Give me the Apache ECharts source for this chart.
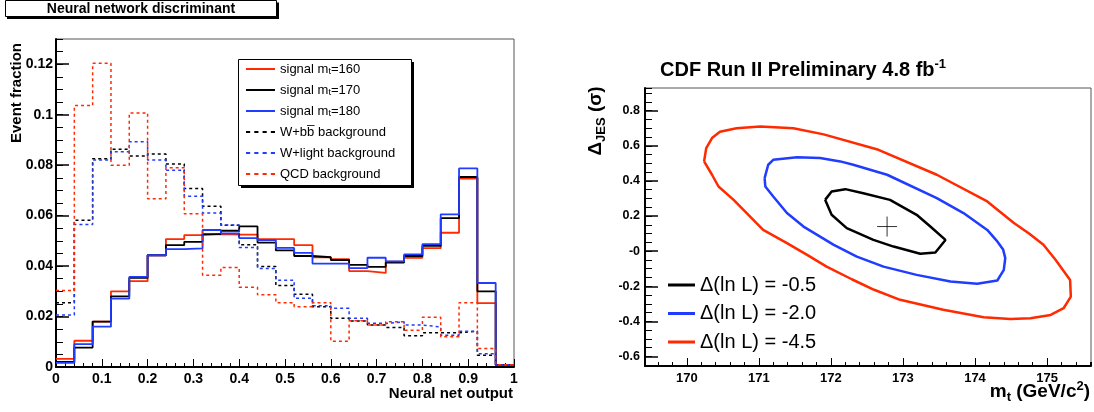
<!DOCTYPE html>
<html>
<head>
<meta charset="utf-8">
<script src="https://cdn.jsdelivr.net/npm/echarts/dist/echarts.min.js"></script>
<style>
  html, body { margin: 0; padding: 0; background: #fff; }
  #main { width: 1094px; height: 412px; }
</style>
</head>
<body>
<div id="main"></div>
<script>
var FONT = '"Liberation Sans", Arial, Helvetica, sans-serif';

// ---- left pad: neural network output, 25 bins of 0.04 ----
var binEdges = [0, 0.04, 0.08, 0.12, 0.16, 0.2, 0.24, 0.28, 0.32, 0.36, 0.4, 0.44, 0.48,
                0.52, 0.56, 0.6, 0.64, 0.68, 0.72, 0.76, 0.8, 0.84, 0.88, 0.92, 0.96, 1.0];

var sig160 = [0.0032, 0.0104, 0.018, 0.030, 0.034, 0.0443, 0.0507, 0.0523, 0.0527, 0.0525, 0.0525, 0.0507, 0.0507,
              0.0483, 0.0435, 0.0427, 0.038, 0.0373, 0.0418, 0.0433, 0.0471, 0.0532, 0.0747, 0.0253, 0.0008];
var sig170 = [0.002, 0.0077, 0.018, 0.028, 0.0353, 0.0443, 0.0483, 0.0496, 0.0527, 0.054, 0.0557, 0.0493, 0.0462,
              0.044, 0.0435, 0.0424, 0.0405, 0.0397, 0.0414, 0.044, 0.048, 0.059, 0.0753, 0.030, 0.0008];
var sig180 = [0.0016, 0.0091, 0.016, 0.0271, 0.0357, 0.0443, 0.0467, 0.047, 0.0543, 0.053, 0.0511, 0.0503, 0.0472,
              0.0452, 0.041, 0.041, 0.0392, 0.0433, 0.0419, 0.0446, 0.0487, 0.0605, 0.0787, 0.0333, 0.0008];
var bkgWbb = [0.0255, 0.0582, 0.0825, 0.0863, 0.0836, 0.0844, 0.0805, 0.0707, 0.0637, 0.0562, 0.0485, 0.0398, 0.0323,
              0.0288, 0.0239, 0.0193, 0.0182, 0.0166, 0.0157, 0.0124, 0.0136, 0.0136, 0.0142, 0.0047, 0.0007];
var bkgWlf = [0.0206, 0.0565, 0.082, 0.0853, 0.0893, 0.082, 0.078, 0.0677, 0.061, 0.0563, 0.0474, 0.039, 0.0344,
              0.0272, 0.0243, 0.0233, 0.0193, 0.0173, 0.0179, 0.0166, 0.0159, 0.0126, 0.0142, 0.0053, 0.0007];
var bkgQcd = [0.0303, 0.1036, 0.1204, 0.080, 0.1007, 0.0667, 0.079, 0.0607, 0.0364, 0.0394, 0.0316, 0.0286, 0.0255,
              0.0239, 0.0255, 0.0102, 0.0183, 0.0166, 0.0179, 0.0146, 0.0197, 0.012, 0.0255, 0.0073, 0.0009];

// ---- right pad: likelihood contours in (m_t, Delta_JES) ----
var contour05 = [[171.92, 0.292], [172.01, 0.34], [172.2, 0.353], [172.45, 0.33], [172.82, 0.292], [173.19, 0.207],
                 [173.38, 0.14], [173.59, 0.064], [173.45, -0.008], [173.24, -0.015], [172.87, 0.026], [172.59, 0.064],
                 [172.22, 0.131], [172.01, 0.207], [171.92, 0.292]];
var contour20 = [[171.08, 0.416], [171.13, 0.492], [171.2, 0.52], [171.53, 0.535], [171.85, 0.53], [172.13, 0.511],
                 [172.31, 0.492], [172.78, 0.435], [173.47, 0.302], [173.84, 0.217], [174.17, 0.121], [174.3, 0.06],
                 [174.39, 0.01], [174.42, -0.04], [174.4, -0.107], [174.31, -0.167], [174.03, -0.186], [173.66, -0.173],
                 [173.19, -0.135], [172.73, -0.088], [172.36, -0.031], [172.04, 0.036], [171.62, 0.14], [171.39, 0.217],
                 [171.2, 0.311], [171.09, 0.368], [171.08, 0.416]];
var contour45 = [[170.24, 0.511], [170.27, 0.587], [170.35, 0.644], [170.46, 0.68], [170.69, 0.70], [171.02, 0.71],
                 [171.48, 0.70], [171.9, 0.665], [172.66, 0.577], [173.47, 0.435], [174.17, 0.283], [174.54, 0.16],
                 [174.75, 0.10], [174.95, 0.036], [175.12, -0.05], [175.32, -0.164], [175.33, -0.259], [175.23, -0.325],
                 [175.05, -0.363], [174.77, -0.382], [174.49, -0.387], [174.12, -0.376], [173.56, -0.334],
                 [172.96, -0.277], [172.6, -0.22], [172.29, -0.16], [171.94, -0.088], [171.67, -0.021], [171.39, 0.046],
                 [171.06, 0.121], [170.65, 0.292], [170.44, 0.368], [170.35, 0.435], [170.24, 0.511]];
var bestFit = [[172.78, 0.14]];

var RED = '#ff2a00', BLUE = '#1f3cff', BLACK = '#000000';
var solidIcon = 'path://M0,0H28V1H0Z';
var dashIcon = 'path://M0,0H4V1H0Z M8,0H12V1H8Z M16,0H20V1H16Z M24,0H28V1H24Z';

var legendText = {
  'signal mt=160': 'signal m{sub|t}=160',
  'signal mt=170': 'signal m{sub|t}=170',
  'signal mt=180': 'signal m{sub|t}=180',
  'W+bb background': 'W+bb\u0305 background',
  'W+light background': 'W+light background',
  'QCD background': 'QCD background'
};

// histogram drawn as a step line through the bin low edges
function histo(vals) {
  return binEdges.map(function (e, i) {
    return [e, vals[Math.min(i, vals.length - 1)]];
  });
}

function histSeries(name, vals, color, dashed) {
  return {
    name: name,
    type: 'line',
    xAxisIndex: 0,
    yAxisIndex: 0,
    step: 'end',
    symbol: 'none',
    data: histo(vals),
    itemStyle: { color: color },
    lineStyle: { color: color, width: dashed ? 1.5 : 1.8, type: dashed ? [3, 3] : 'solid' },
    z: 2
  };
}

function contourSeries(name, pts, color) {
  return {
    name: name,
    type: 'line',
    xAxisIndex: 2,
    yAxisIndex: 2,
    symbol: 'none',
    data: pts,
    itemStyle: { color: color },
    lineStyle: { color: color, width: 2.5 }
  };
}

var chart = echarts.init(document.getElementById('main'));

var axisLineStyle = { onZero: false, lineStyle: { color: '#000', width: 2 } };
var boldLabel = function (size, margin) {
  return { color: '#000', fontSize: size, fontWeight: 'bold', fontFamily: FONT, margin: margin };
};

var option = {
  animation: false,
  backgroundColor: '#fff',
  textStyle: { fontFamily: FONT },
  title: {
    text: 'CDF Run II Preliminary 4.8 fb{sup|-1}',
    left: 660,
    top: 58,
    padding: 0,
    textStyle: {
      color: '#000', fontSize: 20, fontWeight: 'bold', fontFamily: FONT, lineHeight: 24,
      rich: {
        sup: { color: '#000', fontSize: 13, fontWeight: 'bold', fontFamily: FONT, lineHeight: 13, verticalAlign: 'top' }
      }
    }
  },
  grid: [
    { left: 56, top: 39, width: 458, height: 328, show: true, backgroundColor: '#fff',
      borderColor: '#555', borderWidth: 1, outerBoundsMode: 'none' },
    { left: 645, top: 88, width: 446, height: 278, show: true, backgroundColor: '#fff',
      borderColor: '#555', borderWidth: 1, outerBoundsMode: 'none' }
  ],
  xAxis: [
    { gridIndex: 0, type: 'value', min: 0, max: 1, interval: 0.1, position: 'bottom',
      axisLine: axisLineStyle,
      axisTick: { inside: true, length: 8, lineStyle: { color: '#000', width: 1 } },
      axisLabel: boldLabel(14, 5),
      splitLine: { show: false } },
    { gridIndex: 0, type: 'value', min: 0, max: 1, interval: 0.02, position: 'bottom',
      axisLine: { show: false, onZero: false },
      axisTick: { inside: true, length: 4, lineStyle: { color: '#000', width: 1 } },
      axisLabel: { show: false },
      splitLine: { show: false } },
    { gridIndex: 1, type: 'value', min: 169.42, max: 175.61, splitNumber: 6, minInterval: 1, maxInterval: 1,
      position: 'bottom',
      axisLine: axisLineStyle,
      axisTick: { inside: true, length: 8, lineStyle: { color: '#000', width: 1 } },
      axisLabel: Object.assign(boldLabel(13, 6), { showMinLabel: false, showMaxLabel: false }),
      splitLine: { show: false } },
    { gridIndex: 1, type: 'value', min: 169.42, max: 175.61, splitNumber: 30, minInterval: 0.2, maxInterval: 0.2,
      position: 'bottom',
      axisLine: { show: false, onZero: false },
      axisTick: { inside: true, length: 4, lineStyle: { color: '#000', width: 1 } },
      axisLabel: { show: false },
      splitLine: { show: false } }
  ],
  yAxis: [
    { gridIndex: 0, type: 'value', min: 0, max: 0.13, interval: 0.02, position: 'left',
      axisLine: axisLineStyle,
      axisTick: { inside: true, length: 13, lineStyle: { color: '#000', width: 1.5 } },
      axisLabel: Object.assign(boldLabel(14, 3), { showMaxLabel: false }),
      splitLine: { show: false } },
    { gridIndex: 0, type: 'value', min: 0, max: 0.13, interval: 0.005, position: 'left',
      axisLine: { show: false, onZero: false },
      axisTick: { inside: true, length: 7, lineStyle: { color: '#000', width: 1 } },
      axisLabel: { show: false },
      splitLine: { show: false } },
    { gridIndex: 1, type: 'value', min: -0.654, max: 0.929, splitNumber: 8, minInterval: 0.2, maxInterval: 0.2,
      position: 'left',
      axisLine: axisLineStyle,
      axisTick: { inside: true, length: 13, lineStyle: { color: '#000', width: 1.5 } },
      axisLabel: Object.assign(boldLabel(12.5, 5), {
        showMinLabel: false, showMaxLabel: false,
        formatter: function (v) { return Math.abs(v) < 1e-9 ? '-0' : v.toFixed(1); }
      }),
      splitLine: { show: false } },
    { gridIndex: 1, type: 'value', min: -0.654, max: 0.929, splitNumber: 32, minInterval: 0.05, maxInterval: 0.05,
      position: 'left',
      axisLine: { show: false, onZero: false },
      axisTick: { inside: true, length: 7, lineStyle: { color: '#000', width: 1 } },
      axisLabel: { show: false },
      splitLine: { show: false } }
  ],
  legend: [
    { data: [
        { name: 'signal mt=160', icon: solidIcon },
        { name: 'signal mt=170', icon: solidIcon },
        { name: 'signal mt=180', icon: solidIcon },
        { name: 'W+bb background', icon: dashIcon },
        { name: 'W+light background', icon: dashIcon },
        { name: 'QCD background', icon: dashIcon }
      ],
      orient: 'vertical', left: 246, top: 62, padding: 0, z: 6,
      itemWidth: 29, itemHeight: 2, itemGap: 7, selectedMode: false, symbolKeepAspect: false,
      itemStyle: { borderWidth: 0 },
      formatter: function (name) { return legendText[name]; },
      textStyle: {
        color: '#000', fontSize: 13, lineHeight: 14, fontFamily: FONT,
        rich: { sub: { color: '#000', fontSize: 9, lineHeight: 9, fontFamily: FONT, verticalAlign: 'bottom' } }
      } },
    { data: [
        { name: '\u0394(ln L) = -0.5', icon: solidIcon },
        { name: '\u0394(ln L) = -2.0', icon: solidIcon },
        { name: '\u0394(ln L) = -4.5', icon: solidIcon }
      ],
      orient: 'vertical', left: 668, top: 275, padding: 0, z: 6,
      itemWidth: 27, itemHeight: 3, itemGap: 8.5, selectedMode: false, symbolKeepAspect: false,
      itemStyle: { borderWidth: 0 },
      textStyle: { color: '#000', fontSize: 20, lineHeight: 20, fontFamily: FONT } }
  ],
  graphic: [
    // pad title box with shadow
    { type: 'rect', z: 1, shape: { x: 7, y: 2.5, width: 272, height: 16.5 }, style: { fill: '#000' } },
    { type: 'rect', z: 2, shape: { x: 5.5, y: 0.5, width: 271, height: 16 }, style: { fill: '#fff', stroke: '#000', lineWidth: 1 } },
    { type: 'text', z: 3, x: 141, y: 9,
      style: { text: 'Neural network discriminant', fontSize: 14, fontWeight: 'bold', fontFamily: FONT,
               fill: '#000', align: 'center', verticalAlign: 'middle' } },
    // legend box with shadow
    { type: 'rect', z: 4, shape: { x: 241, y: 62, width: 173, height: 126 }, style: { fill: '#000' } },
    { type: 'rect', z: 5, shape: { x: 238.5, y: 59.5, width: 173, height: 126 }, style: { fill: '#fff', stroke: '#000', lineWidth: 1 } },
    // axis titles
    { type: 'text', z: 3, x: 17, y: 93, rotation: Math.PI / 2,
      style: { text: 'Event fraction', fontSize: 15, fontWeight: 'bold', fontFamily: FONT,
               fill: '#000', align: 'center', verticalAlign: 'middle' } },
    { type: 'text', z: 3, x: 513, y: 394,
      style: { text: 'Neural net output', fontSize: 15, fontWeight: 'bold', fontFamily: FONT,
               fill: '#000', align: 'right', verticalAlign: 'middle' } },
    { type: 'text', z: 3, x: 596, y: 121, rotation: Math.PI / 2,
      style: { text: '\u0394{sub|JES} (\u03c3)', fontSize: 19, fontWeight: 'bold', fontFamily: FONT, lineHeight: 24,
               fill: '#000', align: 'center', verticalAlign: 'middle',
               rich: { sub: { fontSize: 13, fontWeight: 'bold', fontFamily: FONT, lineHeight: 13, verticalAlign: 'bottom', fill: '#000' } } } },
    { type: 'text', z: 3, x: 1090, y: 392,
      style: { text: 'm{sub|t} (GeV/c{sup|2})', fontSize: 19, fontWeight: 'bold', fontFamily: FONT, lineHeight: 24,
               fill: '#000', align: 'right', verticalAlign: 'middle',
               rich: {
                 sub: { fontSize: 13, fontWeight: 'bold', fontFamily: FONT, lineHeight: 13, verticalAlign: 'bottom', fill: '#000' },
                 sup: { fontSize: 13, fontWeight: 'bold', fontFamily: FONT, lineHeight: 13, verticalAlign: 'top', fill: '#000' }
               } } }
  ],
  series: [
    histSeries('signal mt=160', sig160, RED, false),
    histSeries('signal mt=170', sig170, BLACK, false),
    histSeries('signal mt=180', sig180, BLUE, false),
    histSeries('W+bb background', bkgWbb, BLACK, true),
    histSeries('W+light background', bkgWlf, BLUE, true),
    histSeries('QCD background', bkgQcd, RED, true),
    contourSeries('\u0394(ln L) = -0.5', contour05, BLACK),
    contourSeries('\u0394(ln L) = -2.0', contour20, BLUE),
    contourSeries('\u0394(ln L) = -4.5', contour45, RED),
    { name: 'best fit', type: 'scatter', xAxisIndex: 2, yAxisIndex: 2, data: bestFit,
      symbol: 'path://M10,0V20M0,10H20', symbolSize: 20,
      itemStyle: { color: 'rgba(0,0,0,0)', borderColor: '#000', borderWidth: 1 } }
  ]
};

chart.setOption(option);
</script>
</body>
</html>
